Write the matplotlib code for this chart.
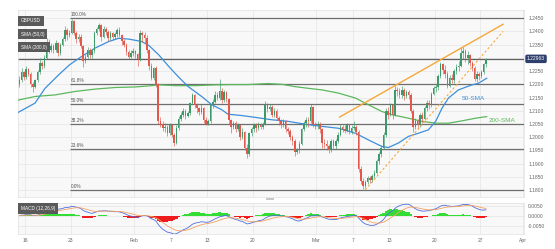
import numpy as np
import pandas as pd
import matplotlib
matplotlib.use("Agg")
import matplotlib.pyplot as plt
from matplotlib.patches import Rectangle

plt.rcParams['font.family'] = ['Liberation Sans', 'DejaVu Sans']

# ---------------- data (6H candles, trading-day axis: 0 = Jan 16) ----------------
first_open = 1.2200
closes = [
    1.2215, 1.2245, 1.2228,                    # Jan 13 (last 3)
    1.2258, 1.2240, 1.2200, 1.2190,            # Jan 16
    1.2215, 1.2245, 1.2280, 1.2270,            # Jan 17
    1.2300, 1.2360, 1.2330, 1.2345,            # Jan 18
    1.2330, 1.2355, 1.2318, 1.2350,            # Jan 19
    1.2372, 1.2405, 1.2385, 1.2395,            # Jan 20
    1.2440, 1.2395, 1.2370, 1.2380,            # Jan 23
    1.2345, 1.2290, 1.2305, 1.2330,            # Jan 24
    1.2310, 1.2325, 1.2395, 1.2410,            # Jan 25
    1.2425, 1.2380, 1.2410, 1.2398,            # Jan 26
    1.2375, 1.2395, 1.2378, 1.2392,            # Jan 27
    1.2405, 1.2385, 1.2362, 1.2350,            # Jan 30
    1.2322, 1.2305, 1.2318, 1.2325,            # Jan 31
    1.2315, 1.2295, 1.2395, 1.2385,            # Feb 1
    1.2375, 1.2330, 1.2270, 1.2225,            # Feb 2
    1.2260, 1.2200, 1.2060, 1.2050,            # Feb 3
    1.2035, 1.2040, 1.2015, 1.2045,            # Feb 6
    1.2010, 1.1980, 1.2035, 1.2070,            # Feb 7
    1.2085, 1.2098, 1.2080, 1.2092,            # Feb 8
    1.2130, 1.2160, 1.2120, 1.2110,            # Feb 9
    1.2095, 1.2110, 1.2065, 1.2050,            # Feb 10
    1.2060, 1.2120, 1.2135, 1.2160,            # Feb 13
    1.2150, 1.2175, 1.2140, 1.2170,            # Feb 14
    1.2145, 1.2065, 1.2040, 1.2055,            # Feb 15
    1.2030, 1.2045, 1.2000, 1.2020,            # Feb 16
    1.1960, 1.1935, 1.2015, 1.2030,            # Feb 17
    1.2045, 1.2035, 1.2048, 1.2040,            # Feb 20
    1.2048, 1.2120, 1.2105, 1.2115,            # Feb 21
    1.2085, 1.2100, 1.2072, 1.2060,            # Feb 22
    1.2045, 1.2060, 1.2030, 1.2025,            # Feb 23
    1.2000, 1.1985, 1.1945, 1.1950,            # Feb 24
    1.1975, 1.2030, 1.2055, 1.2065,            # Feb 27
    1.2060, 1.2115, 1.2050, 1.2045,            # Feb 28
    1.2045, 1.2030, 1.1980, 1.1975,            # Mar 1
    1.1965, 1.1950, 1.1985, 1.1965,            # Mar 2
    1.1985, 1.2010, 1.2040, 1.2030,            # Mar 3
    1.2025, 1.2045, 1.2020, 1.2035,            # Mar 6
    1.2040, 1.2020, 1.1880, 1.1835,            # Mar 7
    1.1815, 1.1830, 1.1845, 1.1838,            # Mar 8
    1.1855, 1.1865, 1.1910, 1.1935,            # Mar 9
    1.1960, 1.2010, 1.2100, 1.2085,            # Mar 10
    1.2120, 1.2085, 1.2180, 1.2175,            # Mar 13
    1.2160, 1.2180, 1.2155, 1.2170,            # Mar 14
    1.2160, 1.2100, 1.2040, 1.2060,            # Mar 15
    1.2045, 1.2085, 1.2070, 1.2110,            # Mar 16
    1.2130, 1.2120, 1.2165, 1.2185,            # Mar 17
    1.2190, 1.2230, 1.2275, 1.2255,            # Mar 20
    1.2240, 1.2195, 1.2225, 1.2215,            # Mar 21
    1.2250, 1.2265, 1.2270, 1.2320,            # Mar 22
    1.2325, 1.2300, 1.2310, 1.2280,            # Mar 23
    1.2260, 1.2220, 1.2240, 1.2230,            # Mar 24
    1.2245, 1.2275, 1.2296,                    # Mar 27
]
highs = [
    1.2232, 1.2262, 1.2250,
    1.2268, 1.2262, 1.2245, 1.2210,
    1.2222, 1.2255, 1.2300, 1.2290,
    1.2310, 1.2375, 1.2372, 1.2355,
    1.2352, 1.2368, 1.2360, 1.2358,
    1.2380, 1.2420, 1.2412, 1.2405,
    1.2448, 1.2445, 1.2402, 1.2390,
    1.2390, 1.2350, 1.2315, 1.2340,
    1.2338, 1.2335, 1.2400, 1.2418,
    1.2432, 1.2428, 1.2420, 1.2415,
    1.2405, 1.2402, 1.2398, 1.2398,
    1.2412, 1.2415, 1.2392, 1.2370,
    1.2355, 1.2330, 1.2328, 1.2338,
    1.2330, 1.2320, 1.2405, 1.2400,
    1.2398, 1.2385, 1.2335, 1.2280,
    1.2265, 1.2268, 1.2205, 1.2075,
    1.2062, 1.2052, 1.2048, 1.2055,
    1.2050, 1.2015, 1.2045, 1.2080,
    1.2095, 1.2110, 1.2105, 1.2100,
    1.2135, 1.2168, 1.2165, 1.2128,
    1.2115, 1.2125, 1.2115, 1.2075,
    1.2068, 1.2125, 1.2145, 1.2175,
    1.2170, 1.2220, 1.2185, 1.2180,
    1.2175, 1.2150, 1.2070, 1.2062,
    1.2060, 1.2055, 1.2048, 1.2035,
    1.2025, 1.1975, 1.2020, 1.2040,
    1.2055, 1.2052, 1.2058, 1.2052,
    1.2058, 1.2138, 1.2130, 1.2125,
    1.2120, 1.2112, 1.2105, 1.2080,
    1.2068, 1.2070, 1.2065, 1.2040,
    1.2030, 1.2010, 1.1992, 1.1960,
    1.1985, 1.2035, 1.2062, 1.2075,
    1.2075, 1.2125, 1.2118, 1.2058,
    1.2062, 1.2058, 1.2035, 1.1995,
    1.1990, 1.1975, 1.1995, 1.1995,
    1.1995, 1.2020, 1.2050, 1.2048,
    1.2048, 1.2055, 1.2050, 1.2045,
    1.2060, 1.2048, 1.2028, 1.1890,
    1.1845, 1.1840, 1.1855, 1.1855,
    1.1862, 1.1875, 1.1918, 1.1945,
    1.1972, 1.2018, 1.2112, 1.2115,
    1.2128, 1.2125, 1.2195, 1.2190,
    1.2185, 1.2195, 1.2185, 1.2178,
    1.2178, 1.2168, 1.2105, 1.2072,
    1.2068, 1.2092, 1.2095, 1.2118,
    1.2140, 1.2142, 1.2170, 1.2192,
    1.2200, 1.2238, 1.2285, 1.2282,
    1.2272, 1.2250, 1.2235, 1.2240,
    1.2258, 1.2275, 1.2290, 1.2340,
    1.2343, 1.2335, 1.2325, 1.2315,
    1.2290, 1.2270, 1.2250, 1.2248,
    1.2255, 1.2282, 1.2300,
]
lows = [
    1.2190, 1.2208, 1.2215,
    1.2222, 1.2230, 1.2190, 1.2172,
    1.2185, 1.2208, 1.2240, 1.2258,
    1.2262, 1.2295, 1.2318, 1.2322,
    1.2318, 1.2322, 1.2306, 1.2312,
    1.2345, 1.2365, 1.2368, 1.2378,
    1.2390, 1.2388, 1.2355, 1.2360,
    1.2338, 1.2265, 1.2280, 1.2298,
    1.2298, 1.2300, 1.2318, 1.2385,
    1.2400, 1.2365, 1.2375, 1.2385,
    1.2365, 1.2368, 1.2366, 1.2372,
    1.2380, 1.2378, 1.2350, 1.2340,
    1.2312, 1.2295, 1.2300, 1.2308,
    1.2300, 1.2270, 1.2290, 1.2360,
    1.2355, 1.2320, 1.2255, 1.2215,
    1.2215, 1.2190, 1.2050, 1.2040,
    1.2025, 1.2020, 1.2005, 1.2010,
    1.2000, 1.1965, 1.1975, 1.2028,
    1.2060, 1.2075, 1.2070, 1.2075,
    1.2085, 1.2125, 1.2110, 1.2090,
    1.2085, 1.2088, 1.2055, 1.2045,
    1.2045, 1.2055, 1.2110, 1.2128,
    1.2140, 1.2140, 1.2128, 1.2135,
    1.2135, 1.2050, 1.2015, 1.2030,
    1.2020, 1.2025, 1.1990, 1.1995,
    1.1950, 1.1922, 1.1930, 1.2005,
    1.2018, 1.2020, 1.2028, 1.2030,
    1.2030, 1.2045, 1.2095, 1.2098,
    1.2075, 1.2078, 1.2065, 1.2048,
    1.2035, 1.2038, 1.2020, 1.2012,
    1.1990, 1.1970, 1.1928, 1.1935,
    1.1940, 1.1970, 1.2025, 1.2040,
    1.2040, 1.2055, 1.2040, 1.2032,
    1.2030, 1.2015, 1.1960, 1.1958,
    1.1950, 1.1942, 1.1945, 1.1955,
    1.1955, 1.1978, 1.2005, 1.2020,
    1.2015, 1.2018, 1.2012, 1.2012,
    1.2028, 1.2010, 1.1870, 1.1825,
    1.1803, 1.1808, 1.1822, 1.1828,
    1.1830, 1.1845, 1.1860, 1.1900,
    1.1925, 1.1955, 1.2000, 1.2070,
    1.2080, 1.2070, 1.2082, 1.2155,
    1.2150, 1.2150, 1.2140, 1.2150,
    1.2145, 1.2090, 1.2020, 1.2030,
    1.2030, 1.2038, 1.2055, 1.2065,
    1.2100, 1.2108, 1.2115, 1.2160,
    1.2170, 1.2180, 1.2225, 1.2240,
    1.2225, 1.2185, 1.2190, 1.2205,
    1.2205, 1.2240, 1.2250, 1.2265,
    1.2295, 1.2285, 1.2275, 1.2270,
    1.2250, 1.2212, 1.2210, 1.2215,
    1.2225, 1.2238, 1.2265,
]

# 50-SMA and 200-SMA (trading-day position, price)
sma50_days = [-0.8, 1.1, 2.2, 3.7, 4.9, 6.2, 7.7, 9.2, 10.3, 11.4, 12.8, 13.6, 14.7, 15.8,
              16.8, 17.9, 19.4, 20.5, 21.6, 22.3, 23.8, 25.3, 27.1, 28.9, 30.8, 32.6,
              34.4, 36.3, 37.7, 39.2, 39.9, 41.0, 42.1, 43.2, 44.3, 45.1, 45.8, 46.5,
              47.6, 49.1, 49.8, 50.7]
sma50_vals = [1.2093, 1.2129, 1.2185, 1.2236, 1.2274, 1.2305, 1.2337, 1.2362, 1.2374, 1.2371,
              1.2362, 1.2347, 1.2311, 1.2267, 1.2230, 1.2192, 1.2154, 1.2123, 1.2104, 1.2087,
              1.2082, 1.2075, 1.2066, 1.2060, 1.2049, 1.2041, 1.2034, 1.2015, 1.1990, 1.1965,
              1.1961, 1.1978, 1.2003, 1.2015, 1.2028, 1.2060, 1.2110, 1.2148, 1.2179, 1.2198,
              1.2204, 1.2223]
sma200_days = [-0.8, 1.1, 3.3, 5.5, 7.7, 9.9, 12.1, 13.6, 14.7, 16.5, 18.7, 20.9, 22.7, 24.5,
               26.7, 28.2, 29.7, 31.1, 32.6, 34.4, 36.3, 37.7, 39.2, 40.3, 42.1, 43.6, 45.1,
               46.5, 48.0, 49.5, 50.7]
sma200_vals = [1.2140, 1.2154, 1.2160, 1.2173, 1.2182, 1.2188, 1.2190, 1.2194, 1.2198, 1.2195,
               1.2195, 1.2198, 1.2199, 1.2199, 1.2203, 1.2200, 1.2191, 1.2185, 1.2179, 1.2167,
               1.2148, 1.2123, 1.2097, 1.2085, 1.2072, 1.2060, 1.2053, 1.2053, 1.2062, 1.2072,
               1.2078]

fib_high = 1.2450
fib_low = 1.1801
fib_start_day = 4.95
fib_ratios = [1.0, 0.618, 0.5, 0.382, 0.236, 0.0]
fib_labels = ['100.0%', '61.8%', '50.0%', '38.2%', '23.6%', '0.0%']
current_price = 1.22963

upper_line_days = [34.54, 52.5]
upper_line_vals = [1.2076, 1.2427]
lower_line_days = [37.36, 52.5]
lower_line_vals = [1.1801, 1.2400]

xtick_pos = [0, 5, 12, 16, 20, 25, 32, 36, 40, 45, 50, 54.7]
xtick_lab = ['16', '23', 'Feb', '7', '13', '20', 'Mar', '7', '13', '20', '27', 'Apr']
price_ticks = [1.1800, 1.1850, 1.1900, 1.1950, 1.2000, 1.2050, 1.2100, 1.2150, 1.2200,
               1.2250, 1.2300, 1.2350, 1.2400, 1.2450]

# ---------------- candle positions ----------------
slots = [(-1, j) for j in (1, 2, 3)] + [(d, j) for d in range(50) for j in range(4)] + [(50, j) for j in range(3)]
xs = np.array([d + (j + 0.5) / 4 for d, j in slots])
c = np.array(closes)
o = np.concatenate([[first_open], c[:-1]])
h = np.array(highs)
l = np.array(lows)

# ---------------- figure ----------------
W, H = 555, 249
fig = plt.figure(figsize=(W / 100, H / 100), dpi=100)
fig.patch.set_facecolor('white')
L, R = 18 / W, 524 / W
ax = fig.add_axes([L, 1 - 197 / H, R - L, (197 - 10) / H])
axm = fig.add_axes([L, 1 - 234 / H, R - L, (234 - 203) / H], sharex=ax)

bg = '#f8f8f8'
grid_c = '#e4e4e4'
tick_c = '#666666'
fs = 3.6

xmin, xmax = -0.77, 54.8
for a in (ax, axm):
    a.set_facecolor(bg)
    for s in a.spines.values():
        s.set_color('#e0e0e0')
        s.set_linewidth(0.5)
    a.tick_params(length=0, labelsize=fs, colors=tick_c, pad=3)
    a.yaxis.tick_right()
    for xp in xtick_pos:
        a.axvline(xp, color=grid_c, lw=0.5, zorder=0)

ax.set_xlim(xmin, xmax)
ax.set_ylim(1.1774, 1.2481)
ax.set_yticks(price_ticks)
ax.set_yticklabels(['' if abs(p - 1.2300) < 1e-9 else f'{p:.4f}' for p in price_ticks])
for p in price_ticks:
    ax.axhline(p, color=grid_c, lw=0.5, zorder=0)
plt.setp(ax.get_xticklabels(), visible=False)

# fib lines
for r, lab in zip(fib_ratios, fib_labels):
    lev = fib_low + (fib_high - fib_low) * r
    ax.plot([fib_start_day, xmax], [lev, lev], color='#6e6e6e', lw=0.9, zorder=1, solid_capstyle='butt')
    ax.text(fib_start_day + 0.1, lev + 0.0004, lab, fontsize=3.4, color='#555555', va='bottom', ha='left', zorder=2)

# current price line
ax.axhline(current_price, color='#606060', lw=0.9, zorder=1)

# SMAs
ax.plot(sma200_days, sma200_vals, color='#5cb85c', lw=0.9, zorder=3)
ax.plot(sma50_days, sma50_vals, color='#3d8fdb', lw=0.9, zorder=3)

# candles
up = c >= o
col = np.where(up, '#3c9a6a', '#e0594c')
ax.vlines(xs, l, h, colors=col, lw=0.45, zorder=4)
body_lo = np.minimum(o, c)
body_h = np.maximum(np.abs(c - o), 0.00015)
ax.bar(xs, body_h, bottom=body_lo, width=0.17, color=col, lw=0, zorder=5)

# trend lines
ax.plot(upper_line_days, upper_line_vals, color='#f5a83a', lw=1.0, zorder=6)
ax.plot(lower_line_days, lower_line_vals, color='#f5a83a', lw=0.8, ls=(0, (2, 2)), zorder=6)

ax.text(48.0, 1.2148, '50-SMA', color='#3d8fdb', fontsize=4.6, va='center', ha='left', zorder=7)
ax.text(50.9, 1.2062, '200-SMA', color='#5cb85c', fontsize=4.6, va='center', ha='left', zorder=7,
        clip_on=False)

# legend boxes top-left
for yy, txt in [(0.955, 'GBPUSD'), (0.885, 'SMA (50,0)'), (0.815, 'SMA (200,0)')]:
    ax.text(0.006, yy, txt, transform=ax.transAxes, fontsize=3.4, color='white', va='top', ha='left',
            bbox=dict(boxstyle='square,pad=0.6', fc='#5a5a5a', ec='none'), zorder=8)

# current price box
ax.text(1.006, current_price, f'{current_price:.5f}', transform=ax.get_yaxis_transform(),
        fontsize=3.6, color='white', va='center', ha='left',
        bbox=dict(boxstyle='round,pad=0.35', fc='#2e3f6e', ec='none'), clip_on=False, zorder=9)

# small separator icon
fig.patches.append(Rectangle((266 / W, 1 - 200 / H), 8 / W, 2 / H, transform=fig.transFigure,
                             fc='#c8c8c8', ec='none'))

# ---------------- MACD ----------------
cs = pd.Series(c)
ema12 = cs.ewm(span=12, adjust=False).mean()
ema26 = cs.ewm(span=26, adjust=False).mean()
macd = ema12 - ema26
signal = macd.ewm(span=9, adjust=False).mean()
hist = macd - signal

axm.set_ylim(-0.0092, 0.0063)
axm.set_yticks([0.005, 0.0, -0.005])
axm.set_yticklabels(['0.0050', '0.0000', '-0.0050'])
for p in [0.005, 0.0, -0.005]:
    axm.axhline(p, color=grid_c, lw=0.5, zorder=0)
hcol = np.where(hist >= 0, '#33dd33', '#ee1c1c')
axm.bar(xs, hist, width=0.26, color=hcol, lw=0, zorder=2)
axm.plot(xs, macd, color='#4f6fe0', lw=0.6, zorder=3)
axm.plot(xs, signal, color='#f5a060', lw=0.6, zorder=3)
axm.text(0.006, 0.9, 'MACD (12,26,9)', transform=axm.transAxes, fontsize=3.4, color='white',
         va='top', ha='left', bbox=dict(boxstyle='square,pad=0.6', fc='#5a5a5a', ec='none'), zorder=8)

axm.set_xticks(xtick_pos)
axm.set_xticklabels(xtick_lab)
axm.tick_params(axis='x', pad=3)

fig.savefig('out.png', dpi=100, facecolor='white')
